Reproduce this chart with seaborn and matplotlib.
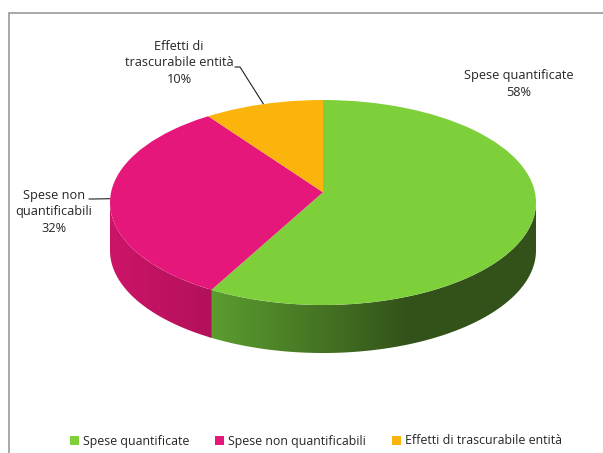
import numpy as np
import matplotlib
matplotlib.use("Agg")
import matplotlib.pyplot as plt
from matplotlib.patches import Patch, Rectangle, Circle, Polygon
from matplotlib.colors import to_rgb
import seaborn as sns

# --------------------------------------------------
# data
# --------------------------------------------------
categories = ["Spese quantificate", "Spese non quantificabili",
              "Effetti di trascurabile entità"]
label_text = ["Spese quantificate", "Spese non\nquantificabili",
              "Effetti di\ntrascurabile entità"]
shares = [58, 32, 10]

top_colors = ["#7ed03b", "#e6177a", "#fbb40c"]
# side wall shading (light end, dark end)
side_colors = [("#5c9e2f", "#33521a"), ("#cc1568", "#b3105a"), ("#e0a00a", "#b07d08")]

sns.set_theme(style="white")
plt.rcParams["font.family"] = ["Open Sans", "DejaVu Sans"]
TXT = "#262626"

fig = plt.figure(figsize=(6.03, 4.53), dpi=100)

# pixel based axes for the walls and labels (origin at ellipse centre)
W, H = 603, 453
cx, cy = 323, 202.5        # ellipse centre, pixels from top-left
a, b, depth = 213, 102.5, 48
off = 0.10                 # slices meet a bit above the centre (perspective)
ax = fig.add_axes([0, 0, 1, 1])
ax.axis("off")

# frame of the chart area (left and top visible)
fig.add_artist(Rectangle((9 / W, -0.05), 1.2, 1.05 - 13 / H,
                         transform=fig.transFigure, fill=False,
                         edgecolor="#9a9a9a", linewidth=1.2))

frac = np.array(shares) / sum(shares)
edges = np.concatenate([[0], np.cumsum(frac)])


def rim_point(theta_deg):
    # ray from the (offset) slice centre to the unit rim, normalised coords
    d = np.array([np.cos(np.radians(theta_deg)), np.sin(np.radians(theta_deg))])
    c = np.array([0.0, off])
    cd = c @ d
    t = -cd + np.sqrt(cd ** 2 - (c @ c - 1))
    return c + t * d


# rim angles of the slice boundaries (unwrapped, decreasing)
bound = 90 - edges * 360
rim = []
for th in bound:
    p = rim_point(th)
    ang = np.degrees(np.arctan2(p[1], p[0]))
    while rim and ang > rim[-1]:
        ang -= 360
    rim.append(ang)

# side walls: only the front half (-180..0 deg) is visible
for i in range(len(shares)):
    # small overlap so no gap shows at the seams (next wall is drawn on top)
    hi, lo = min(rim[i], 0), max(rim[i + 1] - 0.8, -180)
    if hi <= lo:
        continue
    th = np.radians(np.linspace(lo, hi, 200))
    xs, ys = a * np.cos(th), b * np.sin(th)
    poly = np.vstack([np.column_stack([xs, ys]),
                      np.column_stack([xs[::-1], ys[::-1] - depth])])
    clip = Polygon(poly, closed=True, facecolor="none", edgecolor="none")
    ax.add_patch(clip)
    c_light = np.array(to_rgb(side_colors[i][0]))
    c_dark = np.array(to_rgb(side_colors[i][1]))
    gx = np.linspace(xs.min(), xs.max(), 300)
    if i == 0:
        s = np.clip((gx - xs.min()) / 200, 0, 1)
    else:
        s = (gx - xs.min()) / (xs.max() - xs.min())
    grad = (c_light[None, :] * (1 - s[:, None]) + c_dark[None, :] * s[:, None])[None]
    im = ax.imshow(grad, extent=[xs.min(), xs.max(), ys.min() - depth - 1, ys.max() + 1],
                   aspect="auto", interpolation="bilinear", zorder=1 + i)
    im.set_clip_path(clip)

ax.set_xlim(-cx, W - cx)
ax.set_ylim(-(H - cy), cy)

# top face: pie on its own axes, stretched to an ellipse
pax = fig.add_axes([(cx - a) / W, (H - cy - b) / H, 2 * a / W, 2 * b / H])
wedges, _ = pax.pie(shares, colors=top_colors, startangle=90, counterclock=False,
                    radius=2, center=(0, off), wedgeprops=dict(linewidth=0))
pax.set_aspect("auto")
pax.set_xlim(-1, 1)
pax.set_ylim(-1, 1)
rim_clip = Circle((0, 0), 1, transform=pax.transData)
for w in wedges:
    w.set_clip_on(True)
    w.set_clip_path(rim_clip)
pax.patch.set_alpha(0)
pax.set_zorder(2)

# data labels
lab_pos = [(519 - cx, cy - 84), (54 - cx, cy - 212), (179 - cx, cy - 63)]
for i, (name, v) in enumerate(zip(label_text, shares)):
    ax.text(lab_pos[i][0], lab_pos[i][1], f"{name}\n{v}%", ha="center",
            va="center", fontsize=9.2, color=TXT, linespacing=1.35)

# leader lines to slice mid points
mid = 90 - (edges[:-1] + frac / 2) * 360
for i, start in [(1, (89 - cx, cy - 199)), (2, (235 - cx, cy - 67))]:
    p = rim_point(mid[i])
    ex, ey = a * p[0], b * p[1]
    ax.plot([start[0], start[0] + 5, ex], [start[1], start[1], ey],
            color="#202020", lw=0.8, zorder=5)

# legend
handles = [Patch(facecolor=c, edgecolor="none") for c in top_colors]
fig.legend(handles, categories, loc="center", bbox_to_anchor=(316 / W, 1 - 441 / H),
           ncol=3, frameon=False, fontsize=8.9, handlelength=0.7,
           handleheight=0.7, handletextpad=0.35, columnspacing=2.1,
           labelcolor=TXT)

fig.savefig("out.png", dpi=100)
